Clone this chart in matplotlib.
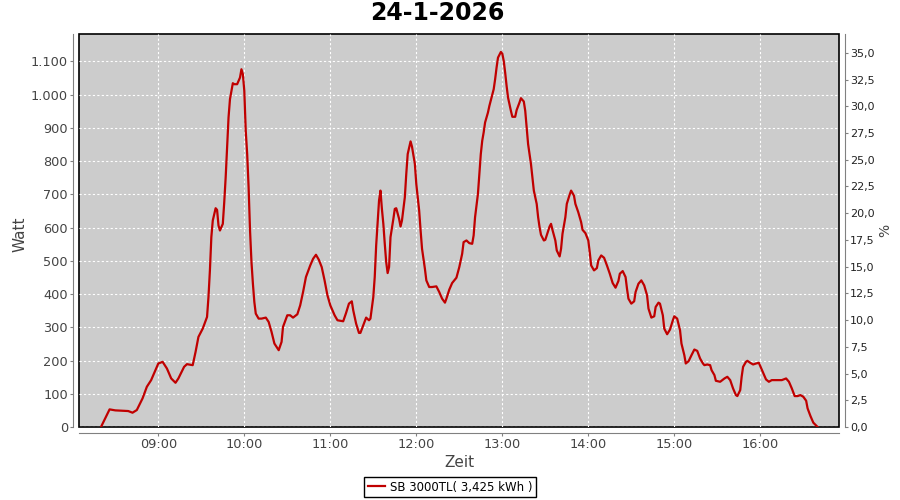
import numpy as np
import pandas as pd
import matplotlib
matplotlib.use('Agg')
import matplotlib.pyplot as plt
import matplotlib.dates as mdates
from matplotlib.ticker import FuncFormatter, MultipleLocator

day = '2026-01-24'
title = '24-1-2026'
series_name = 'SB 3000TL( 3,425 kWh )'

times = [
    '08:20', '08:26', '08:30', '08:39', '08:42', '08:45', '08:49', '08:52', '08:55', '08:58',
    '09:00', '09:03', '09:06', '09:09', '09:12', '09:14', '09:18', '09:20', '09:24', '09:26',
    '09:28', '09:31', '09:34', '09:35', '09:36', '09:37', '09:38', '09:40', '09:41', '09:42',
    '09:43', '09:45', '09:46', '09:47', '09:48', '09:49', '09:50', '09:51', '09:52', '09:53',
    '09:55', '09:57', '09:58', '09:59', '10:00', '10:01', '10:02', '10:03', '10:04', '10:05',
    '10:06', '10:07', '10:08', '10:10', '10:12', '10:15', '10:17', '10:19', '10:21', '10:24',
    '10:26', '10:27', '10:30', '10:32', '10:34', '10:37', '10:39', '10:41', '10:43', '10:46',
    '10:48', '10:50', '10:52', '10:54', '10:56', '10:58', '11:00', '11:03', '11:05', '11:09',
    '11:11', '11:13', '11:15', '11:16', '11:18', '11:20', '11:21', '11:23', '11:25', '11:27',
    '11:28', '11:30', '11:31', '11:32', '11:33', '11:34', '11:35', '11:36', '11:37', '11:38',
    '11:39', '11:40', '11:41', '11:42', '11:44', '11:45', '11:46', '11:48', '11:49', '11:50',
    '11:52', '11:53', '11:54', '11:56', '11:57', '11:59', '12:00', '12:02', '12:03', '12:04',
    '12:06', '12:07', '12:09', '12:11', '12:14', '12:16', '12:18', '12:20', '12:21', '12:23',
    '12:25', '12:28', '12:30', '12:32', '12:33', '12:35', '12:37', '12:39', '12:40', '12:41',
    '12:43', '12:44', '12:45', '12:46', '12:47', '12:48', '12:50', '12:51', '12:52', '12:54',
    '12:55', '12:56', '12:57', '12:59', '13:00', '13:01', '13:02', '13:03', '13:04', '13:06',
    '13:07', '13:09', '13:10', '13:12', '13:13', '13:15', '13:16', '13:17', '13:18', '13:20',
    '13:21', '13:22', '13:24', '13:25', '13:26', '13:27', '13:29', '13:30', '13:31', '13:33',
    '13:34', '13:35', '13:37', '13:38', '13:40', '13:41', '13:42', '13:44', '13:45', '13:47',
    '13:48', '13:50', '13:51', '13:53', '13:55', '13:56', '13:58', '14:00', '14:01', '14:02',
    '14:04', '14:06', '14:07', '14:09', '14:11', '14:13', '14:15', '14:17', '14:19', '14:21',
    '14:22', '14:24', '14:26', '14:27', '14:28', '14:30', '14:32', '14:33', '14:35', '14:37',
    '14:39', '14:41', '14:42', '14:44', '14:46', '14:47', '14:49', '14:50', '14:52', '14:53',
    '14:55', '14:57', '14:59', '15:00', '15:02', '15:04', '15:05', '15:07', '15:08', '15:10',
    '15:12', '15:14', '15:16', '15:18', '15:20', '15:21', '15:23', '15:25', '15:26', '15:28',
    '15:29', '15:32', '15:35', '15:37', '15:39', '15:41', '15:43', '15:44', '15:46', '15:47',
    '15:48', '15:50', '15:51', '15:53', '15:55', '15:57', '15:59', '16:00', '16:02', '16:04',
    '16:06', '16:08', '16:12', '16:15', '16:18', '16:20', '16:22', '16:24', '16:26', '16:28',
    '16:30', '16:32', '16:33', '16:35', '16:37', '16:40',
]

watt = [
    0, 53, 50, 48, 43, 51, 86, 121, 141, 171,
    191, 196, 176, 146, 133, 146, 181, 189, 186, 226,
    271, 296, 331, 391, 471, 571, 621, 658, 653, 606,
    591, 611, 676, 751, 841, 931, 986, 1010, 1034, 1031,
    1031, 1051, 1076, 1061, 1011, 891, 821, 721, 591, 496,
    431, 376, 341, 326, 326, 329, 316, 286, 251, 231,
    256, 301, 336, 336, 329, 339, 366, 406, 451, 486,
    506, 518, 503, 481, 441, 396, 366, 336, 321, 318,
    343, 371, 378, 351, 311, 283, 283, 306, 329, 321,
    326, 391, 451, 546, 616, 681, 711, 656, 611, 551,
    496, 463, 481, 571, 626, 656, 658, 626, 603, 621,
    691, 761, 821, 859, 843, 791, 731, 651, 591, 536,
    476, 441, 421, 421, 423, 406, 386, 374, 386, 413,
    433, 449, 481, 521, 556, 561, 553, 551, 576, 631,
    701, 761, 821, 861, 886, 916, 946, 966, 983, 1016,
    1046, 1081, 1111, 1128, 1123, 1101, 1066, 1026, 991, 951,
    933, 933, 953, 976, 989, 979, 951, 901, 851, 791,
    751, 711, 671, 631, 601, 578, 561, 563, 576, 603,
    611, 593, 561, 531, 513, 536, 581, 631, 671, 699,
    711, 696, 671, 646, 616, 593, 583, 561, 526, 486,
    471, 478, 501, 516, 509, 486, 461, 433, 419, 439,
    461, 469, 451, 416, 386, 371, 378, 406, 431, 441,
    426, 396, 356, 329, 333, 361, 374, 371, 336, 296,
    279, 293, 321, 333, 326, 291, 251, 216, 191, 198,
    216, 233, 229, 206, 191, 186, 188, 186, 171, 156,
    139, 136, 146, 151, 141, 116, 96, 93, 111, 151,
    181, 196, 199, 193, 188, 191, 193, 183, 163, 143,
    136, 141, 141, 141, 146, 136, 116, 93, 93, 96,
    91, 79, 56, 33, 13, 0,
]

watt_ticks = list(range(0, 1101, 100))
pct_ticks = [i * 2.5 for i in range(15)]
hour_ticks = ['09:00', '10:00', '11:00', '12:00', '13:00', '14:00', '15:00', '16:00']

axis_grey = '#808080'
label_grey = '#444444'
line_red = '#c00000'


def to_dates(hhmm):
    return mdates.date2num(pd.to_datetime([day + ' ' + t for t in hhmm]))


def watt_fmt(v, pos):
    return f'{int(round(v)):,}'.replace(',', '.')


def pct_fmt(v, pos):
    return f'{v:.1f}'.replace('.', ',')


fig = plt.figure(figsize=(9, 5), dpi=100)
ax = fig.add_axes([79 / 900, 73 / 500, 760 / 900, 393 / 500])
ax2 = ax.twinx()

x = to_dates(times)
line, = ax.plot(x, watt, color=line_red, lw=1.6, zorder=3)

ax.set_xlim(to_dates(['08:04:40', '16:54:55']))
ax.set_ylim(0, 1182)
ax2.set_ylim(0, 36.76)

ax.set_facecolor('#cccccc')
ax.patch.set_edgecolor('black')
ax.patch.set_linewidth(1.2)

ax.set_yticks(watt_ticks)
ax.yaxis.set_major_formatter(FuncFormatter(watt_fmt))
ax.set_xticks(to_dates(hour_ticks))
ax.xaxis.set_major_formatter(mdates.DateFormatter('%H:%M'))
ax2.set_yticks(pct_ticks)
ax2.yaxis.set_major_formatter(FuncFormatter(pct_fmt))

ax.grid(True, color='white', lw=0.8, linestyle=(0, (2, 2)))
ax.set_axisbelow(True)

for a in (ax, ax2):
    for s in a.spines.values():
        s.set_visible(False)
for side in ('left', 'bottom'):
    ax.spines[side].set_visible(True)
    ax.spines[side].set_position(('outward', 4))
    ax.spines[side].set_color(axis_grey)
ax2.spines['right'].set_visible(True)
ax2.spines['right'].set_position(('outward', 4))
ax2.spines['right'].set_color(axis_grey)

ax.tick_params(axis='both', length=2, width=0.8, color=axis_grey, labelcolor=label_grey, labelsize=9.3, pad=2)
ax2.tick_params(axis='y', length=2, width=0.8, color=axis_grey, labelcolor='#222222', labelsize=8, pad=2)

ax.set_ylabel('Watt', fontsize=11, color=label_grey)
ax.yaxis.set_label_coords(-0.068, 0.49)
ax.set_xlabel('Zeit', fontsize=11, color=label_grey)
ax.xaxis.set_label_coords(0.5, -0.07)
ax2.set_ylabel('%', fontsize=10, color=label_grey)
ax2.yaxis.set_label_coords(1.052, 0.5)

fig.text(437 / 900, 1 - 13 / 500, title, ha='center', va='center', fontsize=17, fontweight='bold')

fig.legend([line], [series_name], loc='center', bbox_to_anchor=(0.5, 1 - 487 / 500),
           frameon=True, fancybox=False, edgecolor='black', framealpha=1, fontsize=8.5,
           handlelength=1.5, borderpad=0.3, handletextpad=0.4)

fig.savefig('out.png', dpi=100)
